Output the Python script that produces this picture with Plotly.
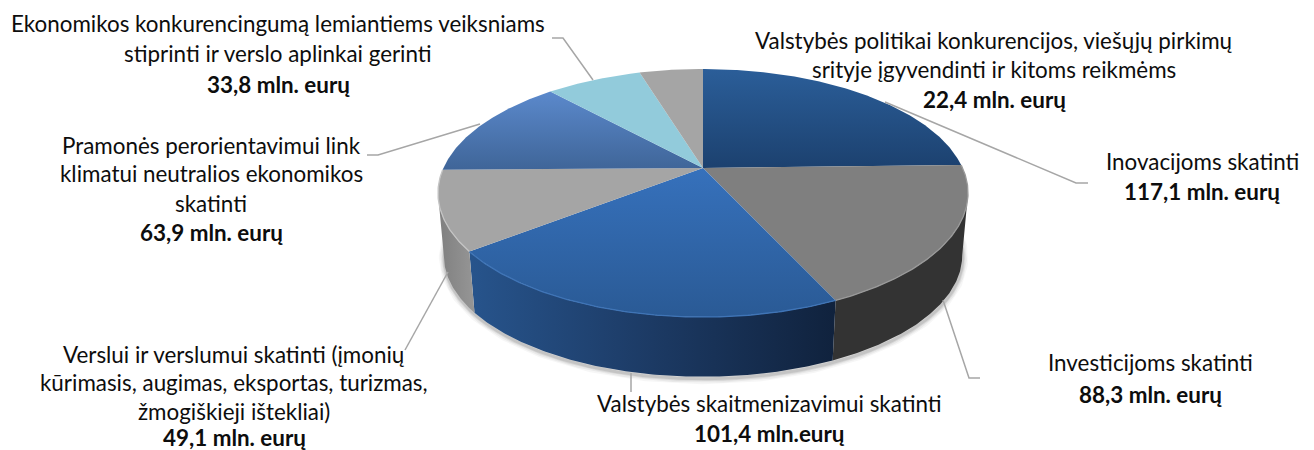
import math
import plotly.graph_objects as go

categories = [
    "Inovacijoms skatinti",
    "Investicijoms skatinti",
    "Valstybės skaitmenizavimui skatinti",
    "Verslui ir verslumui skatinti",
    "Pramonės perorientavimui link klimatui neutralios ekonomikos skatinti",
    "Ekonomikos konkurencingumą lemiantiems veiksniams stiprinti ir verslo aplinkai gerinti",
    "Valstybės politikai konkurencijos, viešųjų pirkimų srityje įgyvendinti ir kitoms reikmėms",
]
values = [117.1, 88.3, 101.4, 49.1, 63.9, 33.8, 22.4]

# (text, centre x, centre y)
label_lines = [
    ("Ekonomikos konkurencingumą lemiantiems veiksniams", 278, 23),
    ("stiprinti ir verslo aplinkai gerinti", 278, 53),
    ("<b>33,8 mln. eurų</b>", 278, 84),
    ("Valstybės politikai konkurencijos, viešųjų pirkimų", 994, 40),
    ("srityje įgyvendinti ir kitoms reikmėms", 994, 69),
    ("<b>22,4 mln. eurų</b>", 994, 99),
    ("Inovacijoms skatinti", 1202, 161),
    ("<b>117,1 mln. eurų</b>", 1202, 191),
    ("Pramonės perorientavimui link", 211, 145),
    ("klimatui neutralios ekonomikos", 211, 173),
    ("skatinti", 211, 203),
    ("<b>63,9 mln. eurų</b>", 211, 232),
    ("Verslui ir verslumui skatinti (įmonių", 234, 354),
    ("kūrimasis, augimas, eksportas, turizmas,", 234, 382),
    ("žmogiškieji ištekliai)", 234, 411),
    ("<b>49,1 mln. eurų</b>", 234, 437),
    ("Valstybės skaitmenizavimui skatinti", 769, 403),
    ("<b>101,4 mln.eurų</b>", 769, 433),
    ("Investicijoms skatinti", 1150, 362),
    ("<b>88,3 mln. eurų</b>", 1150, 394),
]

leaders = [
    ([552, 563, 593], [38, 38, 80]),
    ([367, 378, 480], [155, 155, 124]),
    ([405, 448], [350, 272]),
    ([631, 631], [373, 392]),
    ([943, 969, 980], [300, 378, 378]),
    ([885, 1076, 1088], [102, 183, 183]),
]

top_fill = [
    ["#2b5e99", "#1c416f"], ["#7f7f7f", "#7f7f7f"], ["#3671bc", "#2a5a95"],
    ["#a5a5a5", "#a5a5a5"], ["#5b89cc", "#3f6598"], ["#92cbdb", "#92cbdb"],
    ["#a5a5a5", "#a5a5a5"],
]
wall_fill = {
    1: ["#333333", "#333333"],
    2: ["#27548c", "#1c3a64", "#10223d"],
    3: ["#7f7f7f", "#969696"],
}
rim_color = {1: "#999999", 2: "#3f74b6", 3: "#c4c4c4"}

CX, CY, A, B, K = 703, 168, 259.6, 119, 0.2016
DROP, SHRINK = 63, 0.978
theta_sil = math.degrees(math.acos(-K))


def pt(deg, bottom=False):
    t = math.radians(deg)
    w = 1 + K * math.cos(t)
    s = SHRINK if bottom else 1
    return (CX + s * A * math.sin(t) / w,
            CY + (DROP if bottom else 0) - s * B * math.cos(t) / w)


def arc(a, b, bottom=False):
    n = max(2, int(abs(b - a)) * 2)
    return [pt(a + (b - a) * i / n, bottom) for i in range(n + 1)]


total = sum(values)
edges = [0]
for v in values:
    edges.append(edges[-1] + v / total * 360)

fig = go.Figure()

# soft shadow under the drum
low = arc(theta_sil - 14, 360 - theta_sil + 14, True)
for width, alpha in [(11, .035), (8, .05), (5, .07), (3, .09)]:
    fig.add_trace(go.Scatter(x=[p[0] + .5 for p in low], y=[p[1] + 2 for p in low], mode="lines",
                             line=dict(color=f"rgba(0,0,0,{alpha})", width=width)))

# side walls of the front half
for i, cols in wall_fill.items():
    a, b = max(edges[i], theta_sil), min(edges[i + 1], 360 - theta_sil)
    poly = arc(a, b) + arc(b, a, True)
    xs, ys = zip(*poly)
    steps = [[j / (len(cols) - 1), c] for j, c in enumerate(cols)]
    fig.add_trace(go.Scatter(x=xs, y=ys, mode="lines", fill="toself", line=dict(width=0),
                             fillgradient=dict(type="horizontal", colorscale=steps)))

# top faces
for i, cols in enumerate(top_fill):
    poly = [(CX, CY)] + arc(edges[i], edges[i + 1])
    xs, ys = zip(*poly)
    fig.add_trace(go.Scatter(x=list(xs) + [CX], y=list(ys) + [CY], mode="lines", fill="toself",
                             line=dict(width=0),
                             fillgradient=dict(type="vertical",
                                               colorscale=[[0, cols[1]], [1, cols[0]]])))

# bevel highlight on the front rim
for i, c in rim_color.items():
    xs, ys = zip(*arc(edges[i], edges[i + 1]))
    fig.add_trace(go.Scatter(x=xs, y=ys, mode="lines", line=dict(color=c, width=1.3)))

for xs, ys in leaders:
    fig.add_trace(go.Scatter(x=xs, y=ys, mode="lines", line=dict(color="#a6a6a6", width=1.5)))

annotations = [dict(x=x, y=y, text=t, xref="x", yref="y", showarrow=False,
                    xanchor="center", yanchor="middle",
                    font=dict(family="Lato", size=22.4, color="#0d0d0d"))
               for t, x, y in label_lines]

fig.update_layout(
    width=1314, height=450, margin=dict(l=0, r=0, t=0, b=0),
    paper_bgcolor="white", plot_bgcolor="white", showlegend=False,
    xaxis=dict(range=[0, 1314], visible=False, fixedrange=True),
    yaxis=dict(range=[450, 0], visible=False, fixedrange=True),
    annotations=annotations, hovermode=False,
)
fig.write_html("out.html", config={"displayModeBar": False},
               post_script="document.body.style.margin='0';document.documentElement.style.overflow='hidden';")
